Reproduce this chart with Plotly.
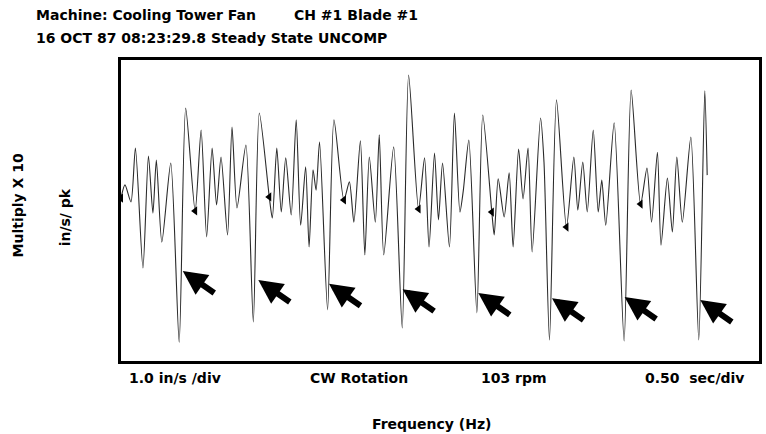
import plotly.graph_objects as go

# Time (s) and amplitude (in/s, pk) of the waveform turning points
time_s = [0.000, 0.031, 0.078, 0.113, 0.172, 0.215, 0.250, 0.277, 0.320, 0.390,
          0.456, 0.507, 0.581, 0.628, 0.671, 0.714, 0.749, 0.784, 0.835, 0.870,
          0.909, 0.979, 1.037, 1.084, 1.162, 1.186, 1.221, 1.256, 1.291, 1.334,
          1.373, 1.408, 1.447, 1.474, 1.505, 1.529, 1.556, 1.619, 1.669, 1.747,
          1.790, 1.825, 1.876, 1.911, 1.946, 1.993, 2.024, 2.059, 2.137, 2.204,
          2.254, 2.332, 2.379, 2.414, 2.457, 2.488, 2.520, 2.574, 2.613, 2.656,
          2.683, 2.726, 2.789, 2.835, 2.906, 2.925, 2.956, 3.003, 3.042, 3.073,
          3.116, 3.151, 3.190, 3.222, 3.288, 3.315, 3.358, 3.413, 3.491, 3.549,
          3.580, 3.619, 3.654, 3.701, 3.740, 3.768, 3.799, 3.865, 3.943, 3.998,
          4.072, 4.122, 4.158, 4.204, 4.232, 4.282, 4.321, 4.356, 4.399, 4.466,
          4.528, 4.575, 4.594]
amplitude = [0.33, 0.68, 0.23, 1.66, -1.53, 1.45, -0.07, 1.34, -0.84, 1.26,
             -3.50, 2.72, -0.01, 2.14, -0.70, 1.66, 0.15, 1.42, -0.65, 2.22,
             0.07, 1.74, -2.96, 2.59, 0.36, -0.20, 1.66, -0.04, 1.40, -0.12,
             2.41, -0.39, 1.16, -0.97, 1.08, 0.54, 1.82, -2.64, 2.41, 0.28,
             0.76, -0.31, 1.85, -1.18, 1.42, -0.31, 2.01, -1.18, 1.69, -3.12,
             3.60, 0.04, 1.40, -0.97, 1.53, -0.25, 1.26, -0.97, 2.59, -0.04,
             0.54, 1.87, -2.72, 2.54, -0.04, -0.65, 0.84, -0.17, 1.00, -0.97,
             1.63, 0.31, 1.66, -1.10, 2.46, 1.29, -3.44, 2.94, -0.44, 1.42,
             0.01, 1.29, -0.04, 2.14, -0.04, 0.81, -0.39, 2.33, -3.47, 3.20,
             0.17, 1.13, -0.31, 1.55, -0.92, 0.86, -0.57, 1.42, -0.31, 1.95,
             -3.44, 3.18, 0.94]

# Once-per-revolution markers
rev_time = [0.000, 0.581, 1.162, 1.747, 2.332, 2.906, 3.491, 4.072]
rev_amp = [0.33, -0.01, 0.36, 0.28, 0.04, -0.04, -0.44, 0.17]

# Blade-pass impacts flagged by arrows (arrow tips)
impact_time = [0.484, 1.076, 1.630, 2.207, 2.800, 3.378, 3.947, 4.540]
impact_amp = [-1.61, -1.85, -1.95, -2.09, -2.19, -2.33, -2.30, -2.38]

x_range = [0, 5]
y_range = [-4, 4]

FONT = "DejaVu Sans"

fig = go.Figure()
fig.add_trace(go.Scatter(
    x=time_s, y=amplitude, mode="lines",
    line=dict(color="#2a2a2a", width=1.1, shape="spline", smoothing=0.7),
    hoverinfo="skip", showlegend=False))
fig.add_trace(go.Scatter(
    x=rev_time, y=rev_amp, mode="markers",
    marker=dict(symbol="triangle-left", size=8, color="black"),
    hoverinfo="skip", showlegend=False))

annotations = []
for t, a in zip(impact_time, impact_amp):
    annotations.append(dict(
        x=t, y=a, xref="x", yref="y", ax=33, ay=23, axref="pixel", ayref="pixel",
        showarrow=True, arrowhead=2, arrowsize=0.8, arrowwidth=6,
        arrowcolor="black", text=""))

def label(text, x, y, xanchor="left", size=14, angle=0):
    annotations.append(dict(
        text=text, x=x, y=y, xref="paper", yref="paper", xanchor=xanchor,
        yanchor="middle", showarrow=False, textangle=angle,
        font=dict(family=FONT, size=size, color="black", weight="bold")))

label("Machine: Cooling Tower Fan", -0.1357, 1.149)
label("CH #1 Blade #1", 0.2683, 1.149)
label("16 OCT 87 08:23:29.8 Steady State UNCOMP", -0.1357, 1.074)
label("1.0 in/s /div", 0.009, -0.057)
label("CW Rotation", 0.2933, -0.057)
label("103 rpm", 0.5616, -0.057)
label("0.50  sec/div", 0.8175, -0.057)
label("Frequency (Hz)", 0.487, -0.209, xanchor="center")
label("Multiply X 10", -0.1622, 0.515, xanchor="center", angle=-90)
label("in/s/ pk", -0.0874, 0.478, xanchor="center", angle=-90)

axis_common = dict(showgrid=False, zeroline=False, showticklabels=False,
                   ticks="", showline=True, mirror=True, linecolor="black",
                   linewidth=2.5, fixedrange=True)

fig.update_layout(
    width=766, height=434,
    margin=dict(l=121, r=4, t=60, b=73),
    paper_bgcolor="white", plot_bgcolor="white",
    xaxis=dict(range=x_range, **axis_common),
    yaxis=dict(range=y_range, **axis_common),
    annotations=annotations,
    showlegend=False,
)

fig.write_html("out.html")
